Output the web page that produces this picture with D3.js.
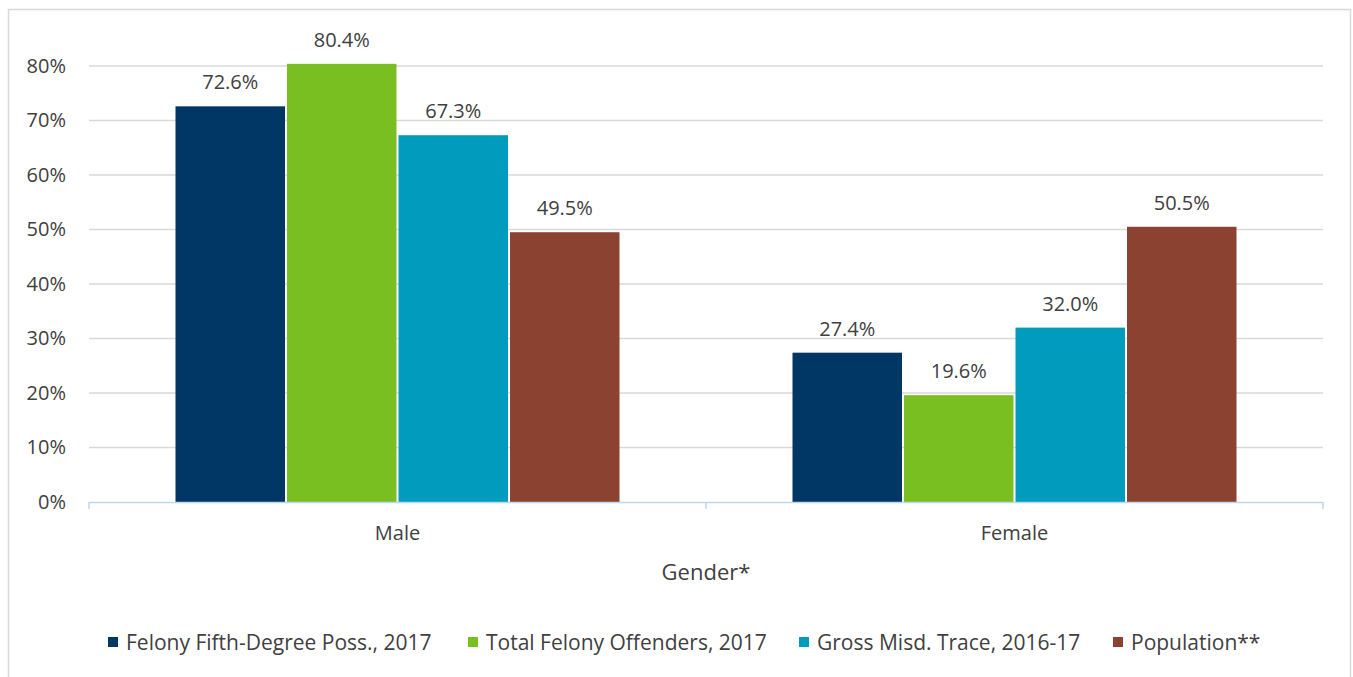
<!DOCTYPE html>
<html>
<head>
<meta charset="utf-8">
<script src="https://cdn.jsdelivr.net/npm/d3@7"></script>
<style>
  body { margin: 0; background: #fff; }
  svg text { font-family: "Open Sans", Lato, sans-serif; fill: #404040; }
</style>
</head>
<body>
<div id="chart"></div>
<script>
const categories = ['Male', 'Female'];
const seriesNames = ['Felony Fifth-Degree Poss., 2017', 'Total Felony Offenders, 2017', 'Gross Misd. Trace, 2016-17', 'Population**'];
const felonyFifth = [72.6, 27.4];
const totalFelony = [80.4, 19.6];
const grossMisd = [67.3, 32.0];
const population = [49.5, 50.5];
const yTicks = [0, 10, 20, 30, 40, 50, 60, 70, 80];
const colors = ['#003764', '#7abf22', '#009bbd', '#8b4230'];

const seriesValues = [felonyFifth, totalFelony, grossMisd, population];

const W = 1353, H = 677;
const margin = { top: 66, right: 30, bottom: 175, left: 89 };
const width = 1323 - margin.left;
const height = 502 - margin.top;

const root = d3.select('#chart').append('svg')
  .attr('width', W).attr('height', H);

// outer frame
root.append('rect')
  .attr('x', 8.5).attr('y', 9.5)
  .attr('width', 1342).attr('height', 680)
  .attr('fill', '#fff').attr('stroke', '#d9d9d9').attr('stroke-width', 1.5);

const svg = root.append('g')
  .attr('transform', `translate(${margin.left},${margin.top})`);

const x0 = d3.scaleBand().domain(categories).range([0, width]).paddingInner(0).paddingOuter(0);
const x1 = d3.scaleBand().domain(d3.range(seriesNames.length))
  .range([85.5, x0.bandwidth() - 85.5]).padding(0);
const y = d3.scaleLinear().domain([0, 80]).range([height, 0]);

// gridlines
svg.append('g')
  .selectAll('line')
  .data(yTicks.filter(d => d > 0))
  .enter().append('line')
  .attr('x1', 0).attr('x2', width)
  .attr('y1', d => y(d)).attr('y2', d => y(d))
  .attr('stroke', '#d9d9d9').attr('stroke-width', 1.5);

// y axis labels
const yAxis = d3.axisLeft(y).tickValues(yTicks).tickFormat(d => d + '%').tickSize(0).tickPadding(23);
const yg = svg.append('g').call(yAxis);
yg.select('.domain').remove();
yg.selectAll('text').attr('font-size', '20px').attr('fill', '#404040')
  .attr('font-family', '"Open Sans", sans-serif');

// bars
const groups = svg.selectAll('.grp')
  .data(categories)
  .enter().append('g')
  .attr('transform', d => `translate(${x0(d)},0)`);

groups.selectAll('rect')
  .data((d, ci) => seriesValues.map((vals, si) => ({ si, v: vals[ci] })))
  .enter().append('rect')
  .attr('x', d => x1(d.si) + 1)
  .attr('width', x1.bandwidth() - 2)
  .attr('y', d => y(d.v))
  .attr('height', d => height - y(d.v))
  .attr('fill', d => colors[d.si]);

groups.selectAll('.lbl')
  .data((d, ci) => seriesValues.map((vals, si) => ({ si, v: vals[ci] })))
  .enter().append('text')
  .attr('class', 'lbl')
  .attr('x', d => x1(d.si) + x1.bandwidth() / 2)
  .attr('y', d => y(d.v) - 17)
  .attr('text-anchor', 'middle')
  .attr('font-size', '20px')
  .text(d => d.v.toFixed(1) + '%');

// x axis
const xAxisG = svg.append('g').attr('transform', `translate(0,${height})`);
xAxisG.append('line')
  .attr('x1', 0).attr('x2', width).attr('y1', 0.5).attr('y2', 0.5)
  .attr('stroke', '#bdd7ee').attr('stroke-width', 1.5);
xAxisG.selectAll('.tk')
  .data([0, x0.bandwidth(), width])
  .enter().append('line')
  .attr('x1', d => d).attr('x2', d => d)
  .attr('y1', 0).attr('y2', 7)
  .attr('stroke', '#bdd7ee').attr('stroke-width', 1.5);
xAxisG.selectAll('.cat')
  .data(categories)
  .enter().append('text')
  .attr('x', d => x0(d) + x0.bandwidth() / 2)
  .attr('y', 38)
  .attr('text-anchor', 'middle')
  .attr('font-size', '20px')
  .text(d => d);

// x axis title
svg.append('text')
  .attr('x', width / 2)
  .attr('y', 580 - margin.top)
  .attr('text-anchor', 'middle')
  .attr('font-size', '22px')
  .text('Gender*');

// legend
const legendX = [108, 468, 799, 1113];
const legend = root.append('g').attr('transform', 'translate(0,642)');
const li = legend.selectAll('g')
  .data(seriesNames)
  .enter().append('g')
  .attr('transform', (d, i) => `translate(${legendX[i]},0)`);
li.append('rect')
  .attr('x', 0).attr('y', -5).attr('width', 10).attr('height', 10)
  .attr('fill', (d, i) => colors[i]);
li.append('text')
  .attr('x', 18).attr('y', 7.5)
  .attr('font-size', '21px')
  .text(d => d);
</script>
</body>
</html>
